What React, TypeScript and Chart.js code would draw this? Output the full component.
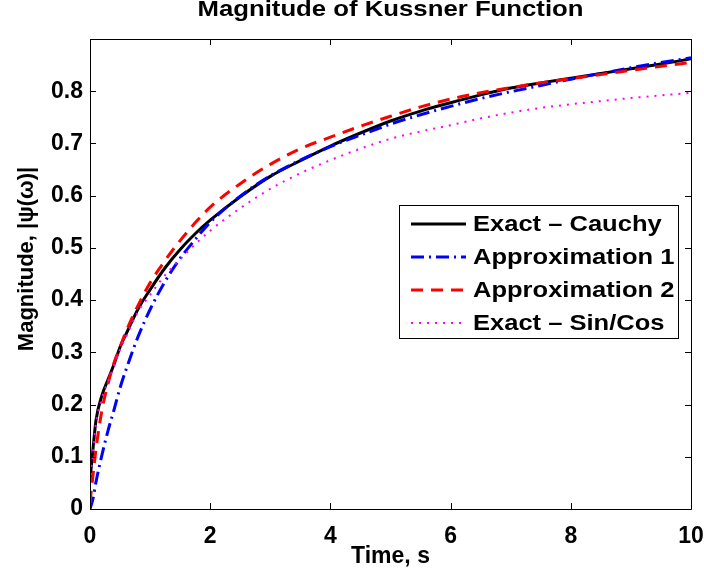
import React, { useEffect, useRef } from "react";
import { Chart, registerables } from "chart.js";

Chart.register(...registerables);

const chartTitle = "Magnitude of Kussner Function";
const xAxisTitle = "Time, s";
const yAxisTitle = "Magnitude, |\u03C8(\u03C9)|";

const timeS = [0, 0.05, 0.1, 0.2, 0.3, 0.4, 0.5, 0.6, 0.8, 1.0, 1.25, 1.5, 1.75, 2, 2.5, 3, 3.5, 4, 4.5, 5, 5.5, 6, 6.5, 7, 7.5, 8, 8.5, 9, 9.5, 10];
const exactCauchy = [0.055, 0.115, 0.17, 0.218, 0.248, 0.277, 0.31, 0.335, 0.383, 0.42, 0.462, 0.497, 0.527, 0.553, 0.598, 0.637, 0.667, 0.695, 0.72, 0.743, 0.762, 0.778, 0.793, 0.806, 0.816, 0.825, 0.834, 0.843, 0.852, 0.862];
const approximation1 = [0, 0.02, 0.052, 0.104, 0.15, 0.19, 0.232, 0.267, 0.33, 0.382, 0.436, 0.48, 0.516, 0.549, 0.599, 0.638, 0.668, 0.694, 0.716, 0.737, 0.755, 0.771, 0.786, 0.799, 0.811, 0.823, 0.834, 0.845, 0.855, 0.864];
const approximation2 = [0.012, 0.065, 0.115, 0.19, 0.24, 0.28, 0.31, 0.34, 0.39, 0.433, 0.476, 0.514, 0.548, 0.578, 0.623, 0.66, 0.69, 0.712, 0.733, 0.752, 0.77, 0.785, 0.797, 0.807, 0.816, 0.824, 0.832, 0.84, 0.848, 0.855];
const exactSinCos = [0.05, 0.11, 0.165, 0.212, 0.245, 0.273, 0.305, 0.33, 0.378, 0.41, 0.448, 0.478, 0.507, 0.533, 0.576, 0.613, 0.643, 0.668, 0.69, 0.709, 0.723, 0.735, 0.748, 0.759, 0.768, 0.775, 0.781, 0.787, 0.792, 0.797];

const seriesLabels = ["Exact \u2013 Cauchy", "Approximation 1", "Approximation 2", "Exact \u2013 Sin/Cos"];
const xTicks = [0, 2, 4, 6, 8, 10];
const yTicks = [0, 0.1, 0.2, 0.3, 0.4, 0.5, 0.6, 0.7, 0.8];

const FONT = "'Liberation Sans', Arial, Helvetica, sans-serif";

const framePlugin = {
  id: "matlabFrame",
  afterDatasetsDraw(chart: any) {
    const { ctx, chartArea: a, scales } = chart;
    ctx.save();
    ctx.strokeStyle = "#000";
    ctx.lineWidth = 1;
    ctx.beginPath();
    ctx.rect(a.left + 0.5, a.top + 0.5, a.right - a.left, a.bottom - a.top);
    ctx.stroke();
    const tl = 6;
    ctx.beginPath();
    xTicks.forEach((v) => {
      const px = Math.round(scales.x.getPixelForValue(v)) + 0.5;
      ctx.moveTo(px, a.bottom);
      ctx.lineTo(px, a.bottom - tl);
      ctx.moveTo(px, a.top);
      ctx.lineTo(px, a.top + tl);
    });
    yTicks.forEach((v) => {
      const py = Math.round(scales.y.getPixelForValue(v)) + 0.5;
      ctx.moveTo(a.left, py);
      ctx.lineTo(a.left + tl, py);
      ctx.moveTo(a.right, py);
      ctx.lineTo(a.right - tl, py);
    });
    ctx.stroke();

    // title
    ctx.fillStyle = "#000";
    ctx.font = `bold 22px ${FONT}`;
    ctx.textAlign = "center";
    ctx.textBaseline = "middle";
    const cx = (a.left + a.right) / 2;
    ctx.save();
    ctx.translate(cx, 10);
    ctx.scale(1.17, 1);
    ctx.fillText(chartTitle, 0, 0);
    ctx.restore();

    // y axis title
    ctx.save();
    ctx.translate(27, 259);
    ctx.rotate(-Math.PI / 2);
    ctx.font = `bold 22px ${FONT}`;
    ctx.textAlign = "center";
    ctx.textBaseline = "middle";
    ctx.fillText(yAxisTitle, 0, 0);
    ctx.restore();

    // legend
    const bx = 399, by = 205, bw = 279, bh = 133;
    ctx.fillStyle = "#fff";
    ctx.fillRect(bx, by, bw, bh);
    ctx.strokeStyle = "#000";
    ctx.lineWidth = 1;
    ctx.strokeRect(bx + 0.5, by + 0.5, bw, bh);
    chart.data.datasets.forEach((ds: any, i: number) => {
      const y = 224 + i * 33;
      ctx.save();
      ctx.strokeStyle = ds.borderColor;
      ctx.lineWidth = ds.borderWidth;
      ctx.setLineDash(ds.borderDash || []);
      ctx.beginPath();
      ctx.moveTo(411, y);
      ctx.lineTo(466, y);
      ctx.stroke();
      ctx.restore();
      ctx.save();
      ctx.fillStyle = "#000";
      ctx.font = `bold 22px ${FONT}`;
      ctx.textAlign = "left";
      ctx.textBaseline = "middle";
      ctx.translate(473, y + 1);
      ctx.scale(1.16, 1);
      ctx.fillText(ds.label, 0, 0);
      ctx.restore();
    });
    ctx.restore();
  },
};

export default function App() {
  const ref = useRef<HTMLCanvasElement | null>(null);
  useEffect(() => {
    document.body.style.margin = "0";
    const mk = (vals: number[]) => timeS.map((t, i) => ({ x: t, y: vals[i] }));
    const chart = new Chart(ref.current as HTMLCanvasElement, {
      type: "line",
      data: {
        datasets: [
          { label: seriesLabels[0], data: mk(exactCauchy), borderColor: "#000000", borderWidth: 3, borderDash: [], order: 4 },
          { label: seriesLabels[1], data: mk(approximation1), borderColor: "#0000ff", borderWidth: 3, borderDash: [13, 5, 2, 5], order: 3 },
          { label: seriesLabels[2], data: mk(approximation2), borderColor: "#ff0000", borderWidth: 3, borderDash: [12, 8], order: 2 },
          { label: seriesLabels[3], data: mk(exactSinCos), borderColor: "#ff00ff", borderWidth: 2, borderDash: [2, 6], order: 1 },
        ] as any,
      },
      options: {
        responsive: false,
        animation: false,
        devicePixelRatio: 1,
        layout: { padding: { top: 39, right: 13, left: 0, bottom: 0 } },
        elements: {
          point: { radius: 0, hoverRadius: 0 },
          line: { cubicInterpolationMode: "monotone", fill: false, borderCapStyle: "butt" },
        },
        plugins: { legend: { display: false }, title: { display: false }, tooltip: { enabled: false } },
        events: [],
        scales: {
          x: {
            type: "linear",
            min: 0,
            max: 10,
            grid: { display: false, drawTicks: false },
            border: { display: false },
            ticks: {
              stepSize: 2,
              autoSkip: false,
              maxRotation: 0,
              padding: 14,
              color: "#000",
              font: { family: FONT, size: 23, weight: "bold" },
              callback: (v: any) => String(v),
            },
            title: {
              display: true,
              text: xAxisTitle,
              color: "#000",
              font: { family: FONT, size: 23, weight: "bold" },
              padding: { top: 0, bottom: 9 },
            },
            afterFit: (s: any) => {
              s.height = 70;
              s.paddingRight = 0;
              s.paddingLeft = 0;
            },
          },
          y: {
            type: "linear",
            min: 0,
            max: 0.9,
            grid: { display: false, drawTicks: false },
            border: { display: false },
            ticks: {
              stepSize: 0.1,
              autoSkip: false,
              padding: 7,
              color: "#000",
              font: { family: FONT, size: 23, weight: "bold" },
              callback: (v: any) => (v > 0.85 ? "" : String(Number(Number(v).toFixed(1)))),
            },
            title: { display: false },
            afterFit: (s: any) => {
              s.width = 90;
              s.paddingTop = 0;
              s.paddingBottom = 0;
            },
          },
        },
      },
      plugins: [framePlugin],
    } as any);
    return () => chart.destroy();
  }, []);
  return (
    <div style={{ width: 704, height: 579, background: "#fff" }}>
      <canvas ref={ref} width={704} height={579} />
    </div>
  );
}
